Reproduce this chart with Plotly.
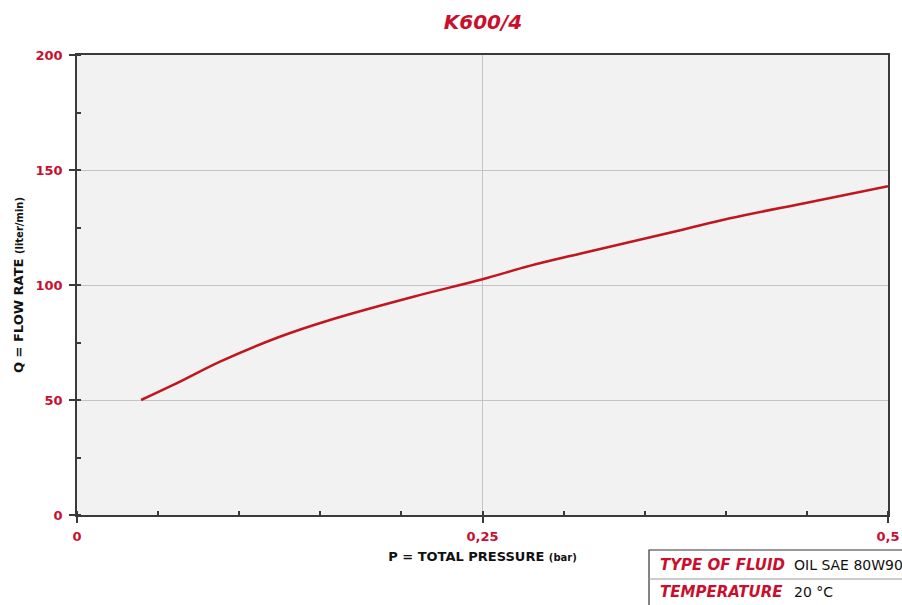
import plotly.graph_objects as go

# Data
pressure_bar = [0.0395, 0.0635, 0.0882, 0.125, 0.156, 0.2074, 0.25, 0.279, 0.31, 0.37, 0.4026, 0.45, 0.5]
flow_lpm = [50.0, 58.0, 66.7, 77.5, 84.8, 94.9, 102.5, 108.3, 113.6, 123.5, 129.0, 135.8, 143.0]

x_tick_vals = [0, 0.25, 0.5]
x_tick_text = ["0", "0,25", "0,5"]
y_tick_vals = [0, 50, 100, 150, 200]
y_tick_text = ["0", "50", "100", "150", "200"]

title_text = "K600/4"
x_title = "P = TOTAL PRESSURE <span style='font-size:10px'>(bar)</span>"
y_title = "Q = FLOW RATE <span style='font-size:10px'>(liter/min)</span>"
table_labels = ["TYPE OF FLUID", "TEMPERATURE"]
table_values = ["OIL SAE 80W90", "20 °C"]

RED = "#c8102e"
CURVE = "#c0161e"
FONT = "'DejaVu Sans', sans-serif"

W, H = 902, 605

fig = go.Figure()
fig.add_trace(go.Scatter(
    x=pressure_bar, y=flow_lpm, mode="lines",
    line=dict(color=CURVE, width=2.5, shape="spline", smoothing=1.0),
    hoverinfo="skip", showlegend=False,
))

axis_common = dict(
    showline=True, linecolor="#3a3a3a", linewidth=1.5, mirror=True,
    ticks="outside", ticklen=6, tickcolor="#3a3a3a", tickwidth=1.5,
    showgrid=True, gridcolor="#c4c4c4", gridwidth=1.2,
    zeroline=False, automargin=False,
    tickfont=dict(family=FONT, size=13, color=RED, weight="bold"),
)

fig.update_layout(
    width=W, height=H,
    margin=dict(l=77, r=W - 888, t=55, b=H - 515),
    paper_bgcolor="white", plot_bgcolor="#f2f2f2",
    title=dict(text=title_text, x=483 / W, xanchor="center",
               y=1 - 22 / H, yanchor="middle", automargin=False,
               font=dict(family=FONT, size=20, color=RED, weight="bold", style="italic")),
    xaxis=dict(
        range=[0, 0.5], tickvals=x_tick_vals, ticktext=x_tick_text,
        ticklabelstandoff=3,
        minor=dict(dtick=0.05, tick0=0, ticks="inside", ticklen=4, tickcolor="#3a3a3a", showgrid=False),
        title=dict(text=x_title, standoff=9, font=dict(family=FONT, size=13, color="#111", weight="bold")),
        **axis_common,
    ),
    yaxis=dict(
        range=[0, 200], tickvals=y_tick_vals, ticktext=y_tick_text,
        ticklabelstandoff=4,
        minor=dict(dtick=25, tick0=0, ticks="inside", ticklen=4, tickcolor="#3a3a3a", showgrid=False),
        title=dict(text=y_title, standoff=9, font=dict(family=FONT, size=13, color="#111", weight="bold")),
        **axis_common,
    ),
)

# Info table at bottom right (paper coords relative to plot area: x 77..888, y 515..55 in page px)
def px(xp):
    return (xp - 77) / 811

def py(yp):
    return (515 - yp) / 460

fig.add_shape(type="rect", xref="paper", yref="paper", x0=px(649), x1=px(915),
              y0=py(625), y1=py(550), line=dict(color="#333", width=1.2),
              fillcolor="white", layer="above")
fig.add_shape(type="line", xref="paper", yref="paper", x0=px(649), x1=px(915),
              y0=py(579), y1=py(579), line=dict(color="#999", width=1), layer="above")

row_centers = [py(565), py(592)]
for lab, val, yc in zip(table_labels, table_values, row_centers):
    fig.add_annotation(xref="paper", yref="paper", x=px(658), y=yc,
                       text=lab, showarrow=False, xanchor="left", yanchor="middle",
                       font=dict(family=FONT, size=15, color=RED, weight="bold", style="italic"))
    fig.add_annotation(xref="paper", yref="paper", x=px(792), y=yc,
                       text=val, showarrow=False, xanchor="left", yanchor="middle",
                       font=dict(family=FONT, size=14, color="#111"))

# remove the browser's default body margin so the figure fills the window exactly
fig.write_html("out.html",
               config={"displayModeBar": False},
               post_script="document.body.style.margin='0';document.body.style.overflow='hidden';")
